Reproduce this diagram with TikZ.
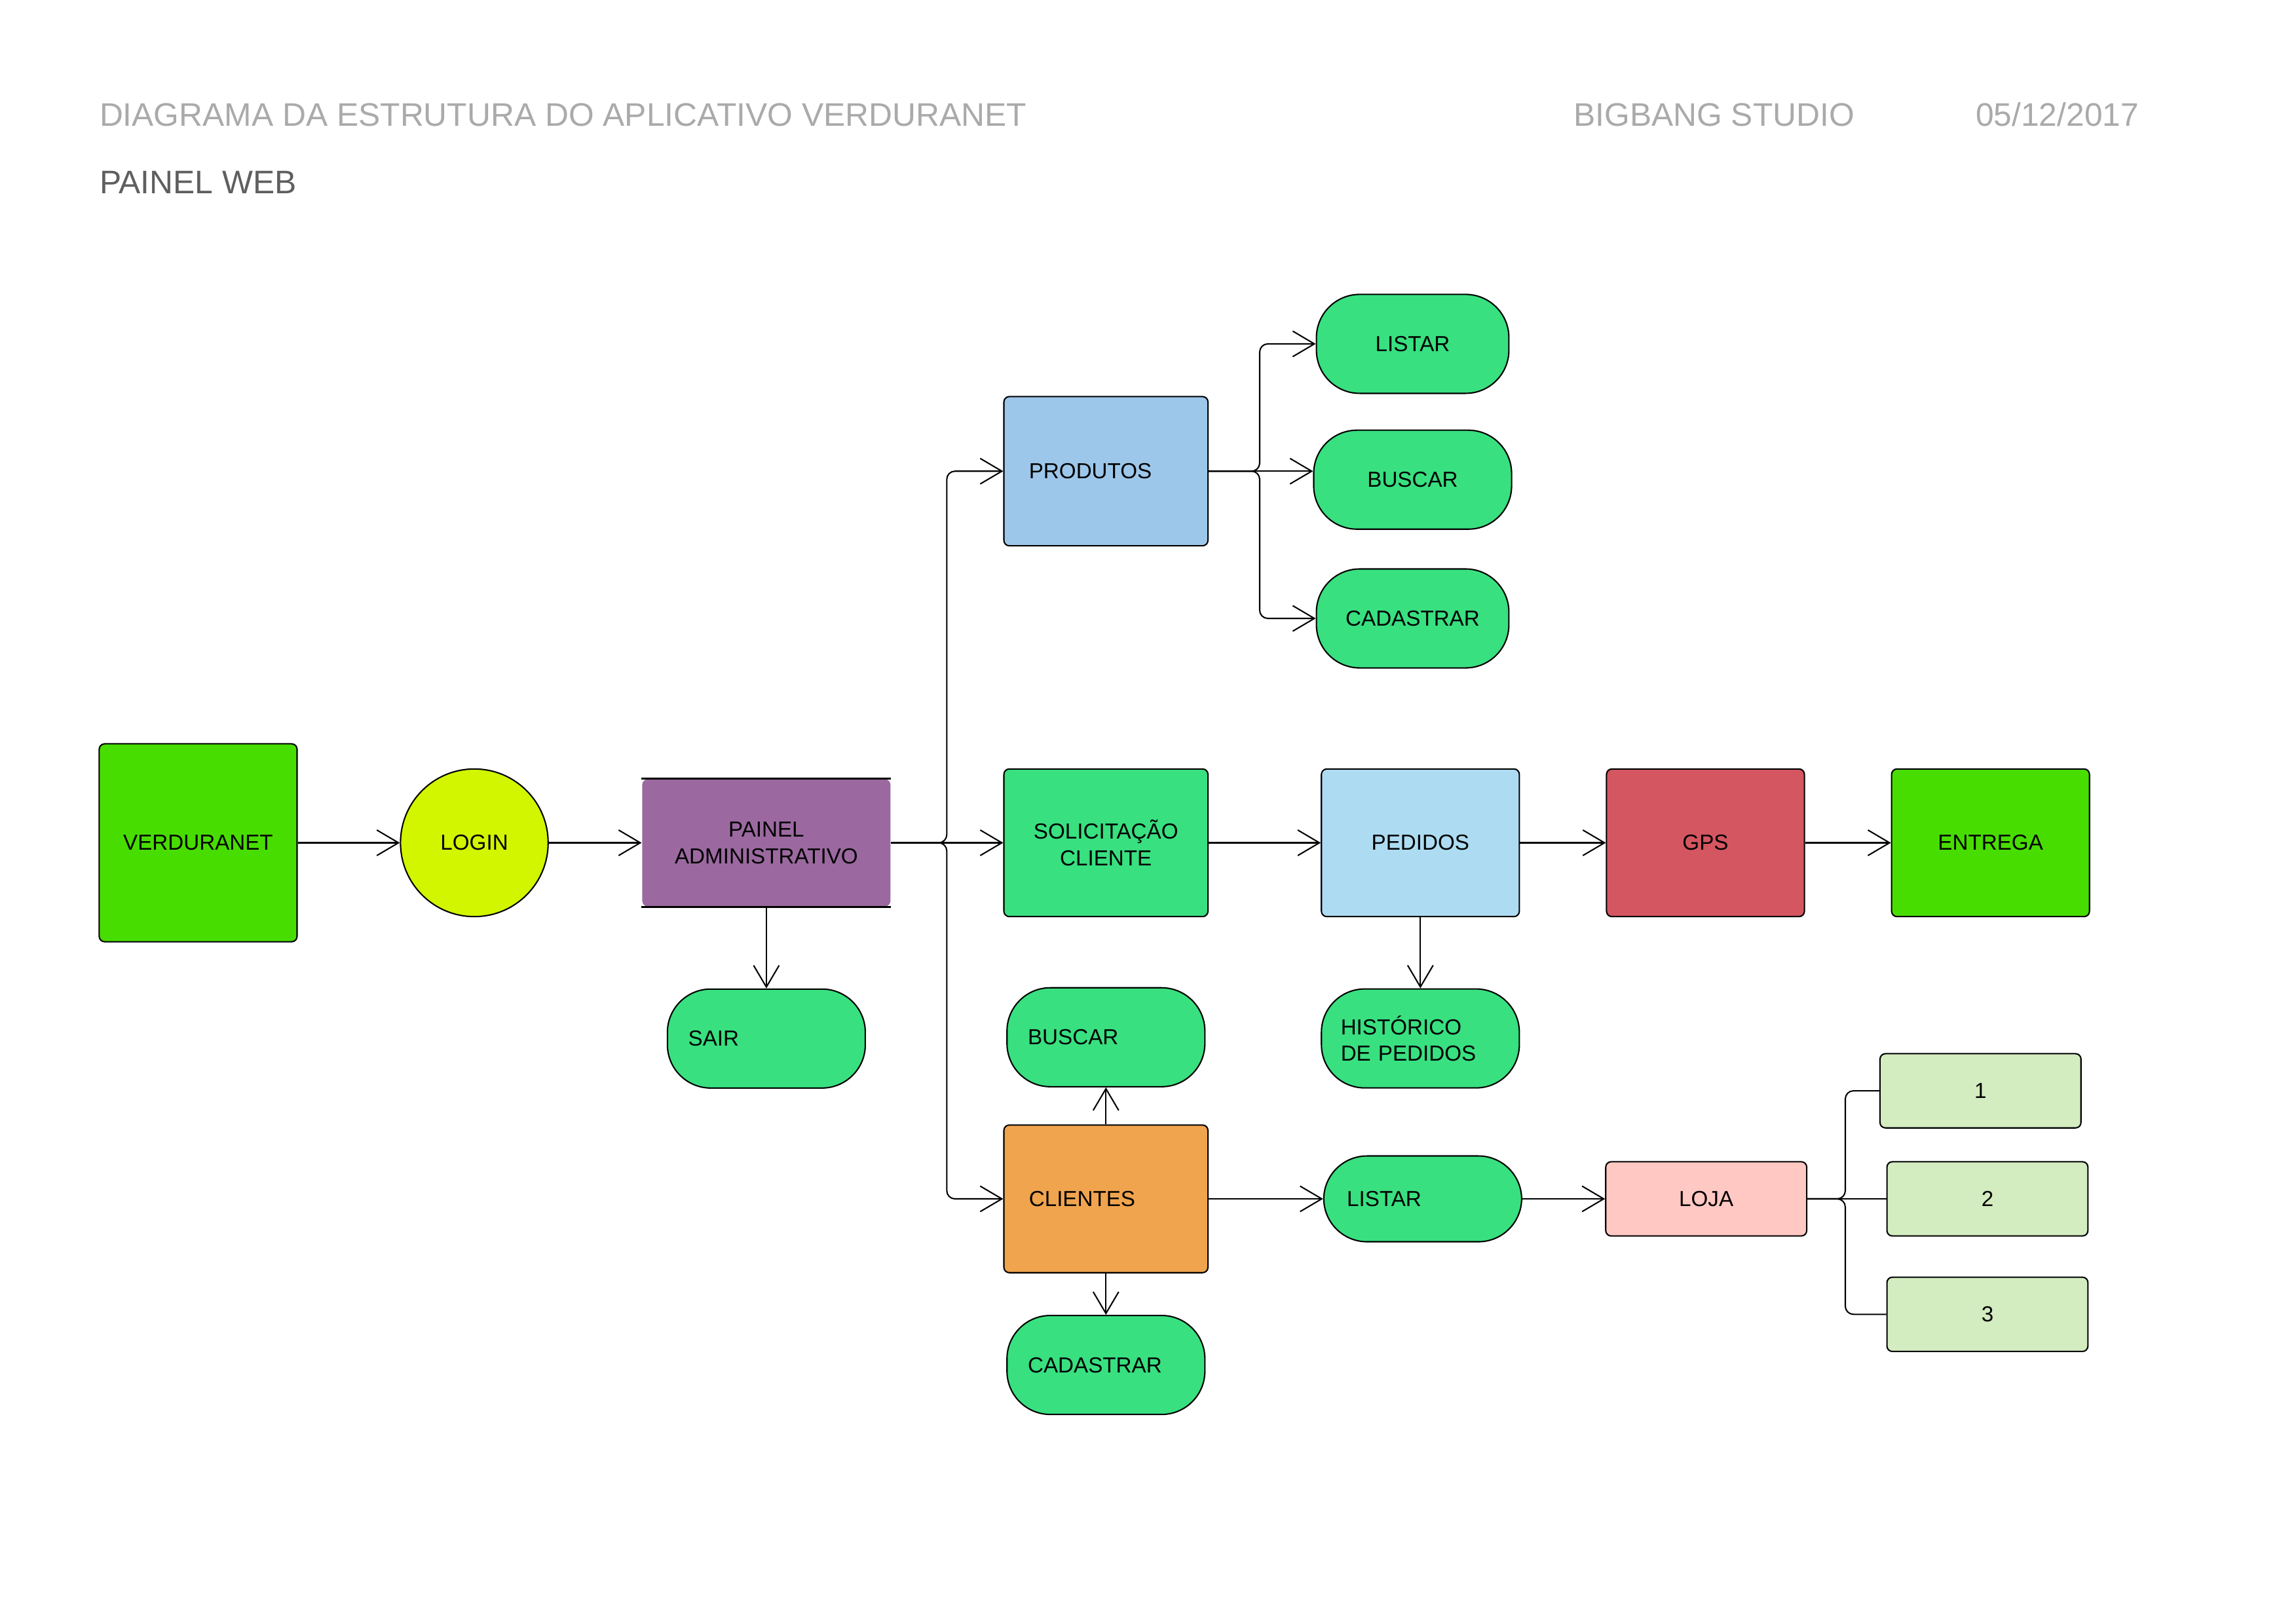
\documentclass[tikz,border=0pt]{standalone}
\usepackage{fontspec}
\setmainfont{Liberation Sans}
\usepackage{tikz}
\usepackage{xcolor}
\usetikzlibrary{positioning, arrows.meta}
\definecolor{verde}{RGB}{72,221,0}
\definecolor{lima}{RGB}{210,245,0}
\definecolor{roxo}{RGB}{155,105,160}
\definecolor{verdepill}{RGB}{56,224,128}
\definecolor{azulprod}{RGB}{157,199,234}
\definecolor{azulped}{RGB}{173,220,242}
\definecolor{vermelho}{RGB}{212,86,97}
\definecolor{laranja}{RGB}{240,164,78}
\definecolor{rosa}{RGB}{255,200,195}
\definecolor{verdepalido}{RGB}{211,236,192}
\definecolor{cinzaclaro}{RGB}{170,170,170}
\definecolor{cinzaescuro}{RGB}{95,95,95}

\begin{document}
\begin{tikzpicture}[
    font=\fontsize{8}{9.8}\selectfont,
    box/.style={rectangle, draw=black, line width=0.5pt, rounded corners=2pt, minimum width=2.56cm, minimum height=1.91cm, align=center, inner sep=2pt},
    bigbox/.style={box, minimum height=2.56cm},
    lbox/.style={box, align=left, text width=1.99cm, inner xsep=0.325cm, minimum width=2.64cm},
    smallbox/.style={box, minimum width=2.6cm, minimum height=0.96cm},
    pill/.style={rectangle, draw=black, line width=0.5pt, fill=verdepill, rounded corners=0.56cm, minimum width=2.56cm, minimum height=1.28cm, align=center},
    lpill/.style={pill, align=left, text width=2.02cm, inner xsep=0.27cm},
    circ/.style={circle, draw=black, line width=0.5pt, fill=lima, minimum size=1.91cm, inner sep=0pt},
    arrow/.style={-{Straight Barb[length=2.8mm, width=3.3mm]}, line width=0.5pt},
    line/.style={line width=0.5pt},
    titulo/.style={font=\fontsize{12}{14}\selectfont, text=cinzaclaro, inner sep=0pt, anchor=base west}
]
\useasboundingbox (0,0) rectangle (29.7,-21.0);

% ========== CABECALHO ==========
\node[titulo] (titulo) at (1.281,-1.63) {DIAGRAMA DA ESTRUTURA DO APLICATIVO VERDURANET};
\node[titulo] (studio) at (20.349,-1.63) {BIGBANG STUDIO};
\node[titulo] (data) at (25.55,-1.63) {05/12/2017};
\node[titulo, text=cinzaescuro] (painelweb) at (1.281,-2.505) {PAINEL WEB};

% ========== LINHA PRINCIPAL ==========
\node[bigbox, fill=verde] (verduranet) at (2.563,-10.901) {VERDURANET};
\node[circ, right=1.32cm of verduranet] (login) {LOGIN};
\node[box, fill=roxo, draw=none, minimum width=3.21cm, minimum height=1.645cm, right=1.2cm of login] (painel) {PAINEL\\ADMINISTRATIVO};
\draw[line width=0.9pt] (painel.north west) -- (painel.north east);
\draw[line width=0.9pt] (painel.south west) -- (painel.south east);
\node[lpill, below=1.052cm of painel] (sair) {SAIR};

\node[box, fill=verdepill, minimum width=2.64cm, right=1.45cm of painel] (solicitacao) {SOLICITAÇÃO\\CLIENTE};
\node[box, fill=azulped, right=1.45cm of solicitacao] (pedidos) {PEDIDOS};
\node[box, fill=vermelho, right=1.11cm of pedidos] (gps) {GPS};
\node[box, fill=verde, right=1.11cm of gps] (entrega) {ENTREGA};
\node[pill, align=left, text width=2.06cm, inner xsep=0.25cm, below=0.918cm of pedidos] (historico) {HISTÓRICO\\DE PEDIDOS};

% ========== PRODUTOS ==========
\node[lbox, fill=azulprod, minimum height=1.93cm, above=2.869cm of solicitacao] (produtos) {PRODUTOS};
\node[pill, right=1.35cm of produtos, yshift=-0.11cm] (buscarp) {BUSCAR};
\node[pill, minimum width=2.49cm, above=0.459cm of buscarp] (listarp) {LISTAR};
\node[pill, minimum width=2.49cm, below=0.497cm of buscarp] (cadastrarp) {CADASTRAR};

% ========== CLIENTES ==========
\node[lbox, fill=laranja, below=2.678cm of solicitacao] (clientes) {CLIENTES};
\node[lpill, above=0.478cm of clientes] (buscarc) {BUSCAR};
\node[lpill, below=0.536cm of clientes] (cadastrarc) {CADASTRAR};
\node[lpill, text width=1.96cm, minimum height=1.11cm, right=1.48cm of clientes] (listarc) {LISTAR};
\node[smallbox, fill=rosa, right=1.07cm of listarc] (loja) {LOJA};
\node[smallbox, fill=verdepalido, right=1.02cm of loja] (loja2) {2};
\node[smallbox, fill=verdepalido, above=0.42cm of loja2, xshift=-0.09cm] (loja1) {1};
\node[smallbox, fill=verdepalido, below=0.516cm of loja2] (loja3) {3};

% ========== PONTOS DE DERIVACAO ==========
\coordinate[right=0.72cm of painel] (busj);
\coordinate[right=0.66cm of produtos] (prodj);
\coordinate[right=0.49cm of loja] (lojaj);

% ========== FLECHAS ==========
\draw[arrow] (verduranet) -- (login);
\draw[arrow] (login) -- (painel);
\draw[arrow] (painel) -- (sair);
\draw[arrow] (painel) -- (solicitacao);
\draw[arrow, rounded corners=3pt] (painel.east) -- (busj) |- (produtos.west);
\draw[arrow, rounded corners=3pt] (painel.east) -- (busj) |- (clientes.west);

\draw[arrow] (produtos.east) -- (produtos.east -| buscarp.west);
\draw[arrow, rounded corners=3pt] (produtos.east) -- (prodj) |- (listarp.west);
\draw[arrow, rounded corners=3pt] (produtos.east) -- (prodj) |- (cadastrarp.west);

\draw[arrow] (solicitacao) -- (pedidos);
\draw[arrow] (pedidos) -- (gps);
\draw[arrow] (gps) -- (entrega);
\draw[arrow] (pedidos) -- (historico);

\draw[arrow] (clientes) -- (buscarc);
\draw[arrow] (clientes) -- (cadastrarc);
\draw[arrow] (clientes) -- (listarc);
\draw[arrow] (listarc) -- (loja);
\draw[line, rounded corners=3pt] (loja.east) -- (lojaj) |- (loja1.west);
\draw[line] (loja.east) -- (lojaj) |- (loja2.west);
\draw[line, rounded corners=3pt] (loja.east) -- (lojaj) |- (loja3.west);

\end{tikzpicture}
\end{document}
